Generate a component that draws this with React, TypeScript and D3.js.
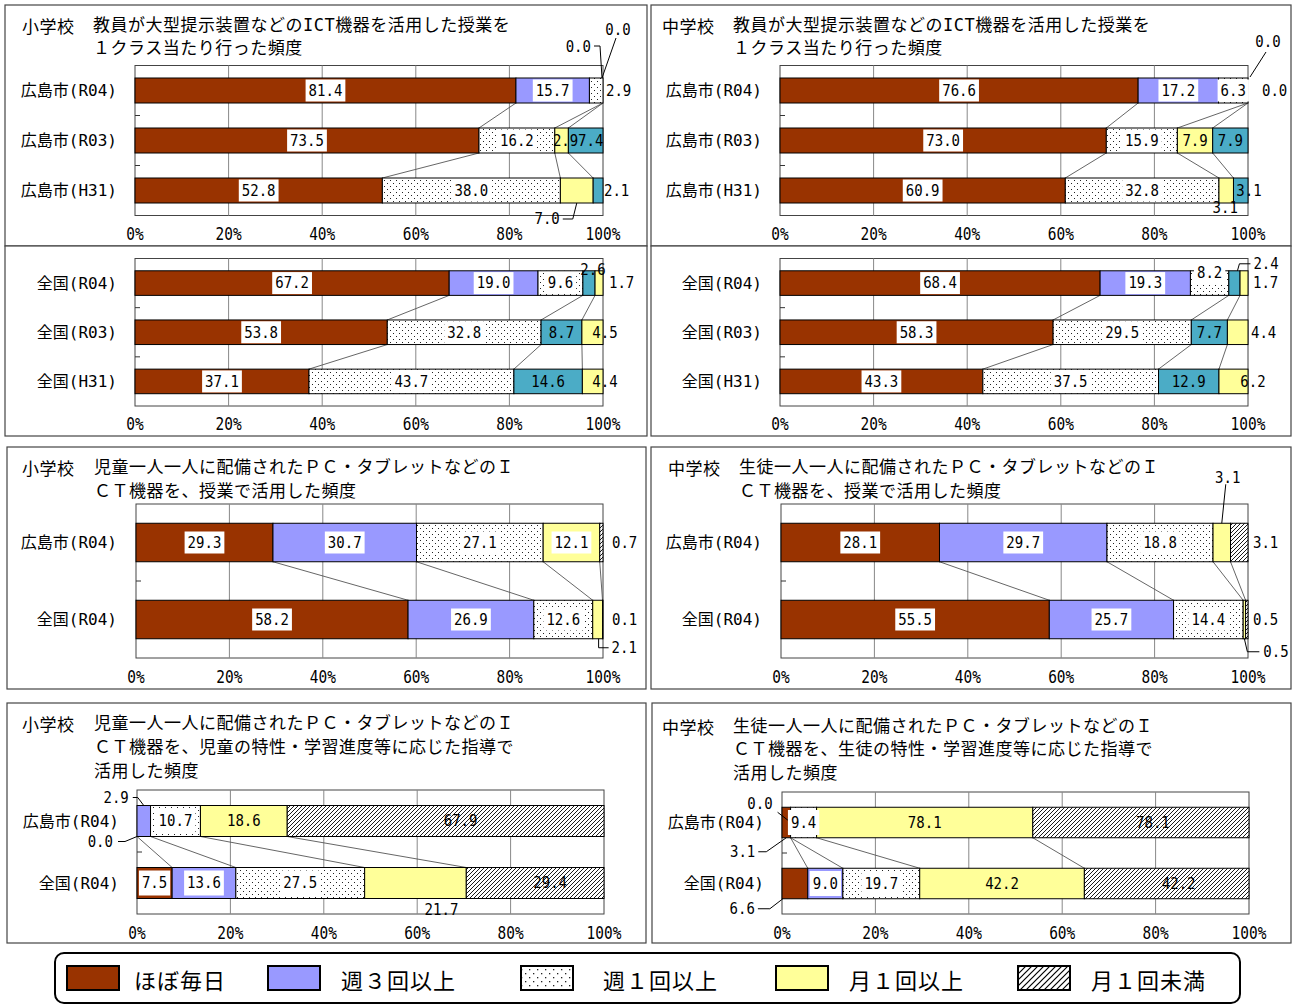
import React from "react";
import * as d3 from "d3";

// ---------------- DATA ----------------
const SERIES_NAMES = ["ほぼ毎日", "週３回以上", "週１回以上", "月１回以上", "月１回未満"];
const TICK_VALUES = [0, 0.2, 0.4, 0.6, 0.8, 1];
const TICK_LABELS = ["0%", "20%", "40%", "60%", "80%", "100%"];

const HEAD_ELEM = "小学校";
const HEAD_JR = "中学校";
const TITLE_TEACHER = ["教員が大型提示装置などのICT機器を活用した授業を", "１クラス当たり行った頻度"];
const TITLE_PC_ELEM = ["児童一人一人に配備されたＰＣ・タブレットなどのＩ", "ＣＴ機器を、授業で活用した頻度"];
const TITLE_PC_JR = ["生徒一人一人に配備されたＰＣ・タブレットなどのＩ", "ＣＴ機器を、授業で活用した頻度"];
const TITLE_IND_ELEM = ["児童一人一人に配備されたＰＣ・タブレットなどのＩ", "ＣＴ機器を、児童の特性・学習進度等に応じた指導で", "活用した頻度"];
const TITLE_IND_JR = ["生徒一人一人に配備されたＰＣ・タブレットなどのＩ", "ＣＴ機器を、生徒の特性・学習進度等に応じた指導で", "活用した頻度"];

const CITY_YEARS = ["広島市(R04)", "広島市(R03)", "広島市(H31)"];
const NATION_YEARS = ["全国(R04)", "全国(R03)", "全国(H31)"];
const CITY_NATION = ["広島市(R04)", "全国(R04)"];

type Row = (number | null)[];
const elemTeacherCity: Row[] = [[81.4, 15.7, 2.9, 0.0, 0.0], [73.5, null, 16.2, 2.9, 7.4], [52.8, null, 38.0, 7.0, 2.1]];
const elemTeacherNation: Row[] = [[67.2, 19.0, 9.6, 2.6, 1.7], [53.8, null, 32.8, 8.7, 4.5], [37.1, null, 43.7, 14.6, 4.4]];
const jrTeacherCity: Row[] = [[76.6, 17.2, 6.3, 0.0, 0.0], [73.0, null, 15.9, 7.9, 7.9], [60.9, null, 32.8, 3.1, 3.1]];
const jrTeacherNation: Row[] = [[68.4, 19.3, 8.2, 2.4, 1.7], [58.3, null, 29.5, 7.7, 4.4], [43.3, null, 37.5, 12.9, 6.2]];
const elemPc: Row[] = [[29.3, 30.7, 27.1, 12.1, 0.7], [58.2, 26.9, 12.6, 2.1, 0.1]];
const jrPc: Row[] = [[28.1, 29.7, 18.8, 3.1, 3.1], [55.5, 25.7, 14.4, 0.5, 0.5]];
const elemInd: Row[] = [[0.0, 2.9, 10.7, 18.6, 67.9], [7.5, 13.6, 27.5, 21.7, 29.4]];
const jrInd: Row[] = [[3.1, 0.0, 9.4, 78.1, 78.1], [6.6, 9.0, 19.7, 42.2, 42.2]];

// ---------------- STYLE ----------------
const BROWN = "#993300";
const LAV = "#9999ff";
const YEL = "#ffff99";
const TEAL = "#4bacc6";
const DOTS = "url(#dots)";
const HATCH = "url(#hatch)";

const FILLS_CITY_OLD = [BROWN, LAV, DOTS, YEL, TEAL];
const FILLS_NATION_OLD = [BROWN, LAV, DOTS, TEAL, YEL];
const FILLS_NEW = [BROWN, LAV, DOTS, YEL, HATCH];
const LEGEND_FILLS = [BROWN, LAV, "url(#dotsL)", YEL, "url(#hatchL)"];

const JP_FONT = "'Noto Sans CJK JP', 'Noto Sans CJK SC', sans-serif";
const MIX_FONT = "'DejaVu Sans Mono', 'Noto Sans CJK JP', monospace";

type Tweak =
  | { mode: "right"; dx: number }
  | { mode: "atEnd"; dx: number }
  | { mode: "shift"; dx: number; dy: number }
  | { mode: "top" | "bottom"; dx: number; dy: number }
  | { mode: "leader"; edge: "top" | "bottom"; tx: number; ty: number; anchor: "start" | "end" | "middle"; pts: [number, number][] };

type Panel = {
  frame: [number, number, number, number];
  x0: number; x1: number; top: number; bottom: number;
  cats: string[]; vals: Row[]; fills: string[];
  box: boolean[]; boxH: number; catX: number; tickY: number; hatchDx: number;
  tweaks: Record<string, Tweak>;
};

const PANELS: Panel[] = [
  {
    frame: [5, 5, 647, 246], x0: 135, x1: 603, top: 65.5, bottom: 215.5,
    cats: CITY_YEARS, vals: elemTeacherCity, fills: FILLS_CITY_OLD,
    box: [true, true, true, false, false], boxH: 22, catX: 117, tickY: 234, hatchDx: 0,
    tweaks: {
      "0-2": { mode: "right", dx: 3 },
      "0-3": { mode: "leader", edge: "top", tx: -12, ty: -31, anchor: "end", pts: [[-9, -32], [-3, -32], [-1, 0]] },
      "0-4": { mode: "leader", edge: "top", tx: 15, ty: -48, anchor: "middle", pts: [[13, -40], [-1, 0]] },
      "1-3": { mode: "shift", dx: 4, dy: 0 },
      "1-4": { mode: "shift", dx: 5, dy: 0 },
      "2-3": { mode: "leader", edge: "bottom", tx: -17, ty: 16, anchor: "end", pts: [[-14, 16], [-4, 16], [0, 0]] },
      "2-4": { mode: "right", dx: 1 },
    },
  },
  {
    frame: [5, 246, 647, 436], x0: 135, x1: 603, top: 258.5, bottom: 406,
    cats: NATION_YEARS, vals: elemTeacherNation, fills: FILLS_NATION_OLD,
    box: [true, true, true, false, false], boxH: 22, catX: 117, tickY: 424, hatchDx: 0,
    tweaks: {
      "0-3": { mode: "top", dx: 4, dy: -1 },
      "0-4": { mode: "right", dx: 6 },
      "1-4": { mode: "atEnd", dx: 2 },
      "2-4": { mode: "atEnd", dx: 2 },
    },
  },
  {
    frame: [651, 5, 1291, 246], x0: 780, x1: 1248, top: 65.5, bottom: 215.5,
    cats: CITY_YEARS, vals: jrTeacherCity, fills: FILLS_CITY_OLD,
    box: [true, true, true, false, false], boxH: 22, catX: 762, tickY: 234, hatchDx: 0,
    tweaks: {
      "0-3": { mode: "leader", edge: "top", tx: 20, ty: -36, anchor: "middle", pts: [[18, -26], [2, -1]] },
      "0-4": { mode: "right", dx: 14 },
      "2-3": { mode: "bottom", dx: -1, dy: 5 },
      "2-4": { mode: "atEnd", dx: 1 },
    },
  },
  {
    frame: [651, 246, 1291, 436], x0: 780, x1: 1248, top: 258.5, bottom: 406,
    cats: NATION_YEARS, vals: jrTeacherNation, fills: FILLS_NATION_OLD,
    box: [true, true, true, false, false], boxH: 22, catX: 762, tickY: 424, hatchDx: 0,
    tweaks: {
      "0-2": { mode: "shift", dx: 0, dy: -10 },
      "0-3": { mode: "leader", edge: "top", tx: 19, ty: -7, anchor: "start", pts: [[3, 0], [5, -7], [16, -7]] },
      "0-4": { mode: "right", dx: 5 },
      "1-4": { mode: "right", dx: 3 },
      "2-4": { mode: "atEnd", dx: 5 },
    },
  },
  {
    frame: [7, 447, 646, 689], x0: 136, x1: 603, top: 504, bottom: 658,
    cats: CITY_NATION, vals: elemPc, fills: FILLS_NEW,
    box: [true, true, true, true, false], boxH: 22, catX: 117, tickY: 677, hatchDx: 0,
    tweaks: {
      "0-4": { mode: "right", dx: 9 },
      "1-4": { mode: "right", dx: 9 },
      "1-3": { mode: "leader", edge: "bottom", tx: 14, ty: 9, anchor: "start", pts: [[1, 0], [1, 9], [11, 9]] },
    },
  },
  {
    frame: [651, 447, 1291, 689], x0: 781, x1: 1248, top: 504, bottom: 658,
    cats: CITY_NATION, vals: jrPc, fills: FILLS_NEW,
    box: [true, true, true, true, false], boxH: 22, catX: 762, tickY: 677, hatchDx: 0,
    tweaks: {
      "0-3": { mode: "leader", edge: "top", tx: 6, ty: -46, anchor: "middle", pts: [[4, -39], [0, 0]] },
      "0-4": { mode: "right", dx: 5 },
      "1-4": { mode: "right", dx: 5 },
      "1-3": { mode: "leader", edge: "bottom", tx: 19, ty: 13, anchor: "start", pts: [[0, 0], [3, 13], [15, 13]] },
    },
  },
  {
    frame: [7, 703, 646, 943], x0: 137, x1: 604, top: 790, bottom: 914,
    cats: CITY_NATION, vals: elemInd, fills: FILLS_NEW,
    box: [true, true, true, false, false], boxH: 25, catX: 119, tickY: 933, hatchDx: 15,
    tweaks: {
      "0-0": { mode: "leader", edge: "bottom", tx: -24, ty: 5, anchor: "end", pts: [[-19, 5], [-12, 5], [0, 0]] },
      "0-1": { mode: "leader", edge: "top", tx: -15, ty: -8, anchor: "end", pts: [[-11, -8], [-6, -8], [0, 0]] },
      "1-3": { mode: "shift", dx: 26, dy: 27 },
    },
  },
  {
    frame: [652, 703, 1291, 943], x0: 782, x1: 1249, top: 792, bottom: 914,
    cats: CITY_NATION, vals: jrInd, fills: FILLS_NEW,
    box: [true, true, true, false, false], boxH: 25, catX: 764, tickY: 933, hatchDx: 12,
    tweaks: {
      "0-0": { mode: "leader", edge: "bottom", tx: -31, ty: 14, anchor: "end", pts: [[-28, 14], [-20, 14], [0, 0]] },
      "0-1": { mode: "leader", edge: "top", tx: -18, ty: -4, anchor: "end", pts: [[-13, 5], [0, 15]] },
      "1-0": { mode: "leader", edge: "bottom", tx: -40, ty: 10, anchor: "end", pts: [[-37, 10], [-25, 10], [-12, 0]] },
    },
  },
];

type Title = { head: string; lines: string[]; x1: number; x2: number; ys: number[] };
const TITLES: Title[] = [
  { head: HEAD_ELEM, lines: TITLE_TEACHER, x1: 22, x2: 93, ys: [25, 48] },
  { head: HEAD_JR, lines: TITLE_TEACHER, x1: 662, x2: 733, ys: [25, 48] },
  { head: HEAD_ELEM, lines: TITLE_PC_ELEM, x1: 22, x2: 94, ys: [467, 491] },
  { head: HEAD_JR, lines: TITLE_PC_JR, x1: 668, x2: 739, ys: [467, 491] },
  { head: HEAD_ELEM, lines: TITLE_IND_ELEM, x1: 22, x2: 94, ys: [723, 747, 771] },
  { head: HEAD_JR, lines: TITLE_IND_JR, x1: 662, x2: 733, ys: [726, 749, 773] },
];

const LEGEND_X = [67, 268, 521, 776, 1018];
const LEGEND_TX = [134, 341, 603, 849, 1091];

const LABEL_SIZE = 16.5;
const TICK_SIZE = 17;
const NARROW = 0.85;

function NarrowText({ x, y, size, anchor, children }: { x: number; y: number; size: number; anchor: "start" | "end" | "middle"; children: React.ReactNode }) {
  return (
    <text
      transform={`translate(${x},${y}) scale(${NARROW},1)`}
      x={0}
      y={0}
      textAnchor={anchor}
      dominantBaseline="central"
      fontFamily={MIX_FONT}
      fontSize={size}
      fill="#000"
    >
      {children}
    </text>
  );
}

function PanelChart({ p }: { p: Panel }) {
  const x = d3.scaleLinear().domain([0, 1]).range([p.x0, p.x1]);
  const y = d3.scaleBand<string>().domain(p.cats).range([p.top, p.bottom]).paddingInner(0.5).paddingOuter(0.25);
  const bw = y.bandwidth();
  const step = y.step();
  const keys = [0, 1, 2, 3, 4];
  const layers = d3
    .stack<Row, number>()
    .keys(keys)
    .value((d, k) => (d[k] ?? 0) as number)
    .offset(d3.stackOffsetExpand)(p.vals);

  const [fx0, fy0, fx1, fy1] = p.frame;
  const n = p.cats.length;

  const seriesLines: React.ReactElement[] = [];
  for (let k = 0; k < keys.length - 1; k++) {
    for (let i = 0; i < n - 1; i++) {
      if (p.vals[i][k] == null || p.vals[i + 1][k] == null) continue;
      const xa = x(layers[k][i][1]);
      const xb = x(layers[k][i + 1][1]);
      const ya = (y(p.cats[i]) as number) + bw;
      const yb = y(p.cats[i + 1]) as number;
      seriesLines.push(<line key={`sl${k}-${i}`} x1={xa} y1={ya} x2={xb} y2={yb} stroke="#555" strokeWidth={0.9} />);
    }
  }

  const bars: React.ReactElement[] = [];
  const labels: React.ReactElement[] = [];
  for (let k = 0; k < keys.length; k++) {
    for (let i = 0; i < n; i++) {
      const v = p.vals[i][k];
      if (v == null) continue;
      const a = x(layers[k][i][0]);
      const b = x(layers[k][i][1]);
      const top = y(p.cats[i]) as number;
      if (b - a > 0.01) {
        bars.push(
          <rect key={`b${k}-${i}`} x={a} y={top} width={b - a} height={bw} fill={p.fills[k]} stroke="#000" strokeWidth={1} />
        );
      }
      const txt = v.toFixed(1);
      const tw = txt.length * LABEL_SIZE * 0.602 * NARROW;
      const cx = (a + b) / 2;
      const cy = top + bw / 2;
      const tw2 = p.tweaks[`${i}-${k}`];
      let lx = cx + (k === 4 ? p.hatchDx : 0);
      let ly = cy;
      let anchor: "start" | "end" | "middle" = "middle";
      let useBox = p.box[k];
      let leader: [number, number][] | null = null;
      if (tw2) {
        useBox = false;
        if (tw2.mode === "right") {
          lx = p.x1 + tw2.dx; anchor = "start";
        } else if (tw2.mode === "atEnd") {
          lx = p.x1 + tw2.dx;
        } else if (tw2.mode === "shift") {
          lx = cx + tw2.dx; ly = cy + tw2.dy; useBox = p.box[k];
        } else if (tw2.mode === "top") {
          lx = cx + tw2.dx; ly = top + tw2.dy;
        } else if (tw2.mode === "bottom") {
          lx = cx + tw2.dx; ly = top + bw + tw2.dy;
        } else if (tw2.mode === "leader") {
          const ay = tw2.edge === "top" ? top : top + bw;
          lx = cx + tw2.tx; ly = ay + tw2.ty; anchor = tw2.anchor;
          leader = tw2.pts.map(([dx, dy]) => [cx + dx, ay + dy]);
        }
      }
      const boxX = anchor === "middle" ? lx - tw / 2 - 3 : anchor === "start" ? lx - 3 : lx - tw - 3;
      labels.push(
        <g key={`l${k}-${i}`}>
          {leader && <polyline points={leader.map((q) => q.join(",")).join(" ")} fill="none" stroke="#000" strokeWidth={1} />}
          {useBox && <rect x={boxX} y={ly - p.boxH / 2} width={tw + 6} height={p.boxH} fill="#fff" />}
          <NarrowText x={lx} y={ly} size={LABEL_SIZE} anchor={anchor}>{txt}</NarrowText>
        </g>
      );
    }
  }

  return (
    <g>
      <rect x={fx0} y={fy0} width={fx1 - fx0} height={fy1 - fy0} fill="#fff" stroke="#444" strokeWidth={1.2} />
      <rect x={p.x0} y={p.top} width={p.x1 - p.x0} height={p.bottom - p.top} fill="#fff" stroke="#444" strokeWidth={1} />
      {TICK_VALUES.slice(1, -1).map((t) => (
        <line key={`g${t}`} x1={x(t)} x2={x(t)} y1={p.top} y2={p.bottom} stroke="#888" strokeWidth={1} />
      ))}
      {d3.range(1, n).map((i) => (
        <line key={`t${i}`} x1={p.x0} x2={p.x0 + 5} y1={p.top + i * step} y2={p.top + i * step} stroke="#333" strokeWidth={1} />
      ))}
      {seriesLines}
      {bars}
      {labels}
      {p.cats.map((c) => (
        <text key={c} x={p.catX} y={(y(c) as number) + bw / 2} textAnchor="end" dominantBaseline="central" fontFamily={MIX_FONT} fontSize={16} fill="#000">
          {c}
        </text>
      ))}
      {TICK_VALUES.map((t, j) => (
        <NarrowText key={`tl${t}`} x={x(t)} y={p.tickY} size={TICK_SIZE} anchor="middle">{TICK_LABELS[j]}</NarrowText>
      ))}
    </g>
  );
}

export default function App() {
  return (
    <svg
      width={1293}
      height={1005}
      viewBox="0 0 1293 1005"
      style={{ position: "absolute", left: 0, top: 0, background: "#fff", display: "block" }}
    >
      <defs>
        <pattern id="dots" width={6} height={6} patternUnits="userSpaceOnUse">
          <rect width={6} height={6} fill="#fff" />
          <rect x={0} y={0} width={1} height={1} fill="#222" />
          <rect x={3} y={3} width={1} height={1} fill="#222" />
        </pattern>
        <pattern id="hatch" width={4} height={4} patternUnits="userSpaceOnUse">
          <rect width={4} height={4} fill="#fff" />
          <path d="M-1,1 L1,-1 M0,4 L4,0 M3,5 L5,3" stroke="#000" strokeWidth={0.9} />
        </pattern>
        <pattern id="dotsL" width={8} height={8} patternUnits="userSpaceOnUse">
          <rect width={8} height={8} fill="#fff" />
          <rect x={1} y={1} width={1.3} height={1.3} fill="#222" />
          <rect x={5} y={5} width={1.3} height={1.3} fill="#222" />
        </pattern>
        <pattern id="hatchL" width={6} height={6} patternUnits="userSpaceOnUse">
          <rect width={6} height={6} fill="#fff" />
          <path d="M-1,1 L1,-1 M0,6 L6,0 M5,7 L7,5" stroke="#000" strokeWidth={1.2} />
        </pattern>
      </defs>
      <rect width={1293} height={1005} fill="#fff" />
      {PANELS.map((p, i) => (
        <PanelChart key={i} p={p} />
      ))}
      {TITLES.map((t, i) => (
        <g key={`title${i}`} fontFamily={MIX_FONT} fontSize={17} fill="#000" letterSpacing={0.5}>
          <text x={t.x1} y={t.ys[0]} dominantBaseline="central" fontFamily={JP_FONT}>{t.head}</text>
          {t.lines.map((line, j) => (
            <text key={j} x={t.x2} y={t.ys[j]} dominantBaseline="central">{line}</text>
          ))}
        </g>
      ))}
      <rect x={55} y={953} width={1185} height={50} rx={9} ry={9} fill="#fff" stroke="#000" strokeWidth={2} />
      {SERIES_NAMES.map((s, i) => (
        <g key={s}>
          <rect x={LEGEND_X[i]} y={966} width={52} height={24} fill={LEGEND_FILLS[i]} stroke="#000" strokeWidth={2} />
          <text x={LEGEND_TX[i]} y={979} dominantBaseline="central" fontFamily={JP_FONT} fontSize={22} letterSpacing={1} fill="#000">
            {s}
          </text>
        </g>
      ))}
    </svg>
  );
}
